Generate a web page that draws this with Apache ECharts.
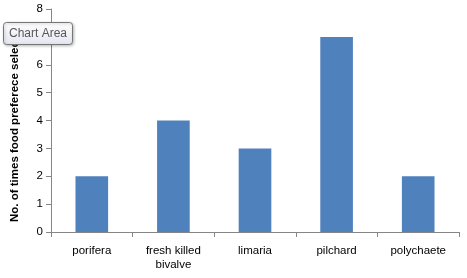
<!DOCTYPE html>
<html><head><meta charset="utf-8">
<script src="https://cdn.jsdelivr.net/npm/echarts@6/dist/echarts.min.js"></script>
<style>html,body{margin:0;padding:0;background:#fff}#c{width:467px;height:278px}</style>
</head><body><div id="c"></div>
<script>
var categories = ['porifera', 'fresh killed\nbivalve', 'limaria', 'pilchard', 'polychaete'];
var values = [2, 4, 3, 7, 2];
var yTicks = [0, 1, 2, 3, 4, 5, 6, 7, 8];
var yTitle = 'No. of times food preferece selected';
var tipText = 'Chart Area';

var chart = echarts.init(document.getElementById('c'), null, {renderer: 'canvas'});
var font = 'Liberation Sans, Arial, sans-serif';
chart.setOption({
  animation: false,
  grid: {left: 51, right: 8, top: 9, bottom: 46, containLabel: false},
  xAxis: {
    type: 'category', data: categories,
    axisLine: {lineStyle: {color: '#868686'}},
    axisTick: {show: true, alignWithLabel: false, length: 5, lineStyle: {color: '#868686'}},
    axisLabel: {color: '#000', fontSize: 11.5, fontFamily: font, margin: 12, lineHeight: 14, interval: 0}
  },
  yAxis: {
    type: 'value', min: 0, max: 8, interval: 1,
    axisLine: {show: true, lineStyle: {color: '#868686'}},
    axisTick: {show: true, length: 5, lineStyle: {color: '#868686'}},
    splitLine: {show: false},
    axisLabel: {color: '#000', fontSize: 11.5, fontFamily: font, margin: 8,
      formatter: function (v) { return yTicks.indexOf(v) >= 0 ? String(v) : ''; }}
  },
  series: [{type: 'bar', data: values, barWidth: '40%', itemStyle: {color: '#4F81BD'}}],
  graphic: [
    {type: 'text', x: 15, y: 222, rotation: Math.PI / 2, z: 10,
      style: {text: yTitle, font: 'bold 11.5px ' + font, fill: '#000', textAlign: 'left', textVerticalAlign: 'middle'}},
    {type: 'rect', shape: {x: 3.5, y: 22.5, width: 69, height: 22, r: 3}, z: 20,
      style: {fill: {type: 'linear', x: 0, y: 0, x2: 0, y2: 1, colorStops: [{offset: 0, color: '#ffffff'}, {offset: 1, color: '#e4e5f0'}]},
        stroke: '#767676', lineWidth: 1,
        shadowBlur: 3, shadowColor: 'rgba(0,0,0,0.25)', shadowOffsetX: 1, shadowOffsetY: 1}},
    {type: 'text', x: 9, y: 34, z: 21,
      style: {text: tipText, font: '12px ' + font, fill: '#575757', textVerticalAlign: 'middle'}}
  ]
});
</script></body></html>
